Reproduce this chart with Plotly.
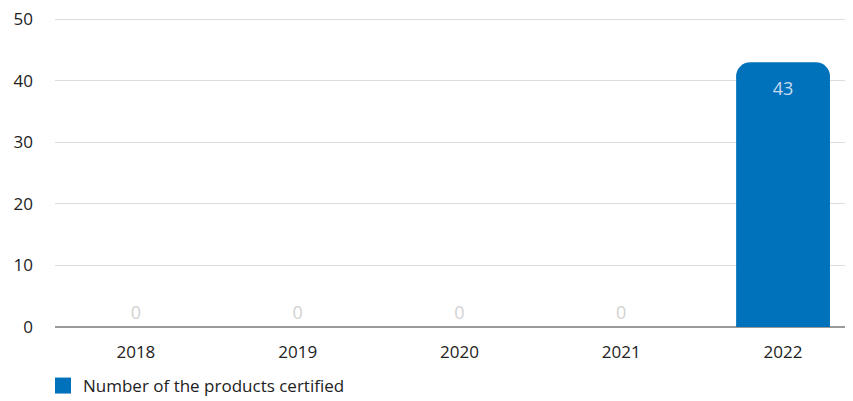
import plotly.graph_objects as go

years = ["2018", "2019", "2020", "2021", "2022"]
certified = [0, 0, 0, 0, 43]
series_name = "Number of the products certified"

BLUE = "#0071bb"
positions = ["outside" if v < 5 else "inside" for v in certified]
text_colors = ["#d2d2d2" if v < 5 else "#c9dcef" for v in certified]

# page body has an 8px default margin, so the figure is sized to fit the window
W, H = 845, 393

fig = go.Figure()
fig.add_trace(go.Bar(
    x=years, y=certified, name=series_name,
    marker=dict(color=BLUE, cornerradius=14, line=dict(width=0)),
    width=0.58,
    text=[str(v) for v in certified],
    textposition=positions,
    insidetextanchor="end",
    textfont=dict(size=18, color=text_colors, family="Open Sans"),
    cliponaxis=False,
    showlegend=False,
))
# legend entry (square swatch)
fig.add_trace(go.Scatter(
    x=[None], y=[None], mode="markers", name=series_name,
    marker=dict(symbol="square", size=19, color=BLUE),
    showlegend=True,
))

fig.update_layout(
    width=W, height=H,
    margin=dict(l=47, r=2, t=10, b=74, autoexpand=False),
    plot_bgcolor="white", paper_bgcolor="white",
    font=dict(family="Open Sans", size=17, color="#222"),
    showlegend=True,
    legend=dict(orientation="h", xref="container", yref="container",
                x=35/W, xanchor="left", y=15/H, yanchor="middle",
                font=dict(size=17, color="#222"), itemsizing="trace",
                bgcolor="rgba(0,0,0,0)"),
    xaxis=dict(type="category", range=[-0.5, 4.42], showgrid=False,
               ticks="", ticklabelstandoff=13, showline=False, zeroline=False,
               automargin=False, ticklabeloverflow="allow"),
    yaxis=dict(range=[0, 50.2], tickvals=[0, 10, 20, 30, 40, 50], showgrid=True,
               gridcolor="#dcdcdc", gridwidth=1, zeroline=True,
               zerolinecolor="#9a9a9a", zerolinewidth=2,
               ticks="", ticklabelstandoff=21, showline=False, automargin=False,
               ticklabeloverflow="allow"),
)

fig.write_html("out.html")
